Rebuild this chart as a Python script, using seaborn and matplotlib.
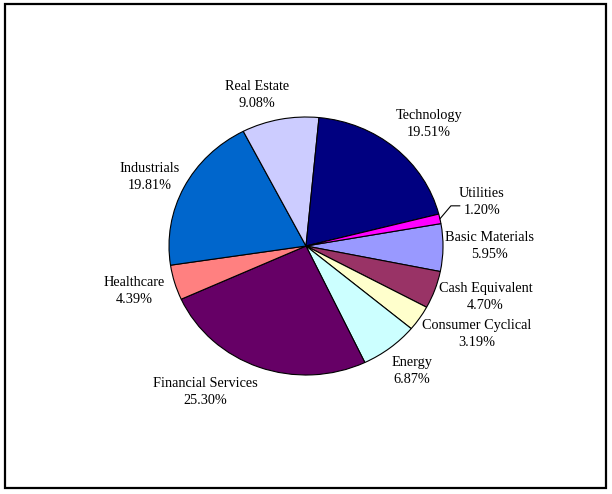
import numpy as np
import matplotlib
matplotlib.use("Agg")
import matplotlib.pyplot as plt
import seaborn as sns
from matplotlib.patches import Rectangle

sns.set_theme(style="white")
plt.rcParams['font.family'] = ['Liberation Serif', 'DejaVu Serif']

categories = ["Basic Materials", "Cash Equivalent", "Consumer Cyclical", "Energy",
              "Financial Services", "Healthcare", "Industrials", "Real Estate",
              "Technology", "Utilities"]
values = [5.95, 4.70, 3.19, 6.87, 25.30, 4.39, 19.81, 9.08, 19.51, 1.20]
colors = ["#9999FF", "#993366", "#FFFFCC", "#CCFFFF", "#660066",
          "#FF8080", "#0066CC", "#CCCCFF", "#000080", "#FF00FF"]

# label placement (radius, angle nudge in degrees) per slice
label_r = [1.34, 1.37, 1.42, 1.24, 1.35, 1.30, 1.26, 1.22, 1.30, 1.33]
label_da = [0.7, 3.0, 5.2, 0.8, -12.9, -0.8, 1.8, 6.1, -3.0, 2.8]

W, H = 612, 494
cx, cy, rx, ry = 306, 246, 137, 129

fig = plt.figure(figsize=(W / 100, H / 100), dpi=100)
ax = fig.add_axes([0, 0, 1, 1])
wedges, _ = ax.pie(values, colors=colors, startangle=10, counterclock=False,
                   wedgeprops=dict(edgecolor="black", linewidth=0.8))
ax.set_aspect('auto')
ax.set_xlim(-cx / rx, (W - cx) / rx)
ax.set_ylim(-(H - cy) / ry, cy / ry)
ax.axis('off')

for i, w in enumerate(wedges):
    mid = 0.5 * (w.theta1 + w.theta2)
    a = np.deg2rad(mid + label_da[i])
    x, y = label_r[i] * np.cos(a), label_r[i] * np.sin(a)
    ax.text(x, y, f"{categories[i]}\n{values[i]:.2f}%", ha="center", va="center",
            fontsize=10.3, color="black", linespacing=1.4)
    if categories[i] == "Utilities":
        m = np.deg2rad(mid)
        sx, sy = np.cos(m), np.sin(m)
        ex, ey = sx + 11 / rx, sy + 13 / ry
        ax.plot([sx, ex, ex + 9 / rx], [sy, ey, ey], color="black", lw=0.8)

fig.patches.append(Rectangle((5 / W, 1 - 488 / H), 601 / W, 484 / H,
                             transform=fig.transFigure, fill=False,
                             edgecolor="black", linewidth=1.6))
fig.savefig("out.png", dpi=100)
